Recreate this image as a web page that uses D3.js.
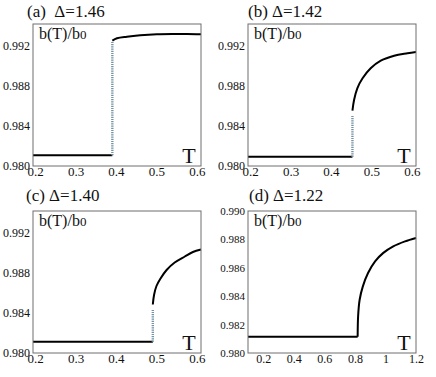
<!DOCTYPE html>
<html lang="en">
<head>
    <meta charset="UTF-8">
    <title>b(T)/b0 panels</title>
    <style>
        body {
            margin: 0;
            background: #fff;
        }

        svg text {
            font-family: "Liberation Serif", "Times New Roman", Times, "DejaVu Serif", serif;
            fill: #111;
        }

        .title {
            white-space: pre;
        }

        .box {
            fill: none;
            stroke: #6e6e6e;
            stroke-width: 1;
        }

        .solid {
            fill: none;
            stroke: #000;
            stroke-width: 2;
        }

        .dotted {
            fill: none;
            stroke: #7392a4;
            stroke-width: 2.4;
            stroke-dasharray: 1.2 1;
        }
    </style>
    <script src="https://d3js.org/d3.v7.min.js"></script>
</head>
<body>
    <div id="chart"></div>
    <script>
        // values
        const titles = ["(a)  \u0394=1.46", "(b) \u0394=1.42", "(c) \u0394=1.40", "(d) \u0394=1.22"];

        const xTicksABC = [0.2, 0.3, 0.4, 0.5, 0.6];
        const yTicksABC = [0.980, 0.984, 0.988, 0.992];
        const xTicksD = [0.2, 0.4, 0.6, 0.8, 1, 1.2];
        const yTicksD = [0.980, 0.982, 0.984, 0.986, 0.988, 0.990];

        const flatA = [[0.195, 0.98107], [0.391, 0.98107]];
        const jumpA = [[0.391, 0.98107], [0.391, 0.9925]];
        const curveA = [[0.391, 0.99253], [0.4025, 0.99277], [0.427, 0.99293], [0.460, 0.99307],
            [0.501, 0.99317], [0.542, 0.9932], [0.575, 0.9932], [0.61, 0.99317]];

        const flatB = [[0.195, 0.98093], [0.453, 0.98093]];
        const jumpB = [[0.453, 0.98093], [0.453, 0.9851]];
        const curveB = [[0.453, 0.98553], [0.457, 0.9866], [0.465, 0.98777], [0.478, 0.98877],
            [0.498, 0.98977], [0.523, 0.99053], [0.556, 0.99103], [0.589, 0.99127], [0.61, 0.9914]];

        const flatC = [[0.195, 0.98113], [0.491, 0.98113]];
        const jumpC = [[0.491, 0.98113], [0.491, 0.9843]];
        const curveC = [[0.491, 0.98485], [0.494, 0.9858], [0.500, 0.9867], [0.510, 0.98745],
            [0.525, 0.9883], [0.545, 0.98905], [0.570, 0.98965], [0.590, 0.9901], [0.61, 0.99035]];

        const flatD = [[0.1, 0.98115], [0.818, 0.98115]];
        const curveD = [[0.818, 0.98115], [0.821, 0.9826], [0.831, 0.98375], [0.852, 0.98469],
            [0.886, 0.98563], [0.932, 0.98645], [0.986, 0.98705], [1.051, 0.98751],
            [1.128, 0.98786], [1.2, 0.9881]];

        const width = 436;
        const height = 377;
        const serif = '"Liberation Serif", "Times New Roman", Times, "DejaVu Serif", serif';

        const svg = d3.select("#chart").append("svg")
            .attr("width", width)
            .attr("height", height);

        // panel boxes and per-panel settings
        const panels = [
            { title: titles[0], x: 33, y: 24, xDomain: [0.195, 0.61], yDomain: [0.980, 0.9942],
              xTicks: xTicksABC, yTicks: yTicksABC, xFmt: d3.format(".1f"), flat: flatA, jump: jumpA, curve: curveA,
              tdx: -6, tdy: -7, xfs: 13, yfs: 12 },
            { title: titles[1], x: 248, y: 24, xDomain: [0.195, 0.61], yDomain: [0.980, 0.9942],
              xTicks: xTicksABC, yTicks: yTicksABC, xFmt: d3.format(".1f"), flat: flatB, jump: jumpB, curve: curveB,
              tdx: 0, tdy: -7, xfs: 13, yfs: 12 },
            { title: titles[2], x: 33, y: 211, xDomain: [0.195, 0.61], yDomain: [0.980, 0.9942],
              xTicks: xTicksABC, yTicks: yTicksABC, xFmt: d3.format(".1f"), flat: flatC, jump: jumpC, curve: curveC,
              tdx: -7, tdy: -10.5, xfs: 13, yfs: 12 },
            { title: titles[3], x: 248, y: 211, xDomain: [0.1, 1.2], yDomain: [0.980, 0.990],
              xTicks: xTicksD, yTicks: yTicksD, xFmt: d => d3.format("~g")(d), flat: flatD, jump: null, curve: curveD,
              tdx: 1, tdy: -10, xfs: 12, yfs: 11 }
        ];

        const boxW = 168;
        const boxH = 142;

        panels.forEach(p => {
            const g = svg.append("g").attr("transform", `translate(${p.x},${p.y})`);

            const x = d3.scaleLinear().domain(p.xDomain).range([0, boxW]);
            const y = d3.scaleLinear().domain(p.yDomain).range([boxH, 0]);

            const line = d3.line()
                .x(d => x(d[0]))
                .y(d => y(d[1]));

            const xAxis = g.append("g")
                .attr("transform", `translate(0,${boxH})`)
                .call(d3.axisBottom(x).tickValues(p.xTicks).tickFormat(p.xFmt).tickSize(0).tickPadding(1));
            xAxis.attr("font-family", serif);
            xAxis.select(".domain").remove();
            xAxis.selectAll("text")
                .style("font-size", p.xfs + "px")
                .attr("fill", "#111");

            const yAxis = g.append("g")
                .call(d3.axisLeft(y).tickValues(p.yTicks).tickFormat(d3.format(".3f")).tickSize(0).tickPadding(3));
            yAxis.attr("font-family", serif);
            yAxis.select(".domain").remove();
            yAxis.selectAll("text")
                .style("font-size", p.yfs + "px")
                .attr("fill", "#111");

            g.append("path").attr("class", "solid").attr("d", line(p.flat));
            if (p.jump) {
                g.append("path").attr("class", "dotted").attr("d", line(p.jump));
            }
            g.append("path").attr("class", "solid")
                .attr("d", line.curve(d3.curveCatmullRom.alpha(0.5))(p.curve));

            g.append("rect").attr("class", "box")
                .attr("width", boxW)
                .attr("height", boxH);

            g.append("text")
                .attr("class", "title")
                .attr("x", p.tdx)
                .attr("y", p.tdy)
                .style("font-size", "17px")
                .text(p.title);

            const lbl = g.append("text")
                .attr("x", 6)
                .attr("y", 15)
                .style("font-size", "16px")
                .text("b(T)/b");
            lbl.append("tspan").style("font-size", "13px").text("0");

            g.append("text")
                .attr("x", boxW - 12)
                .attr("y", boxH - 3)
                .attr("text-anchor", "middle")
                .style("font-size", "22px")
                .text("T");
        });
    </script>
</body>
</html>
